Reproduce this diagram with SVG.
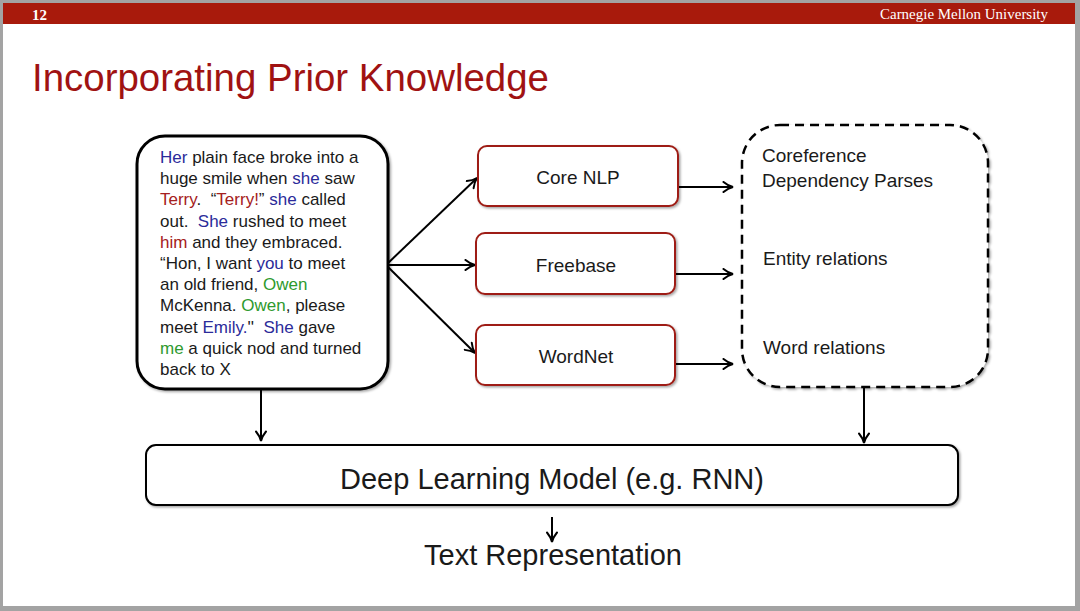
<svg xmlns="http://www.w3.org/2000/svg" width="1080" height="611" viewBox="0 0 1080 611">
<style>
.sans{font-family:"Liberation Sans",Arial,sans-serif;}
.story{font-family:"Liberation Sans",Arial,sans-serif;font-size:17px;fill:#1a1a1a;}
.b{fill:#2b2b9a;}
.r{fill:#a52020;}
.g{fill:#2e9a2e;}
.lbl{font-family:"Liberation Sans",Arial,sans-serif;font-size:19px;fill:#1a1a1a;}
.tool{fill:#fff;stroke:#9e1f14;stroke-width:2;}
.conn{stroke:#000;stroke-width:2;fill:none;marker-end:url(#arr);}
</style>
<defs>
<marker id="arr" viewBox="0 0 12 12" refX="11" refY="6" markerWidth="12" markerHeight="12" markerUnits="userSpaceOnUse" orient="auto">
<path d="M1.5,1 Q6,4.8 11,6 Q6,7.2 1.5,11" fill="none" stroke="#000" stroke-width="2" stroke-linecap="round"/>
</marker>
<filter id="sh" x="-5%" y="-5%" width="115%" height="125%">
<feDropShadow dx="1.5" dy="1.5" stdDeviation="1" flood-color="#000" flood-opacity="0.35"/>
</filter>
</defs>

<!-- slide frame -->
<rect x="0" y="0" width="1080" height="611" fill="#a3a3a3"/>
<rect x="3" y="3" width="1072" height="603" fill="#ffffff"/>
<rect x="3" y="3" width="1072" height="21" fill="#a81a0c"/>
<text x="32" y="20" font-family="'Liberation Serif',serif" font-weight="bold" font-size="15" fill="#fff">12</text>
<text x="880" y="19" font-family="'Liberation Serif',serif" font-size="15" fill="#fff" textLength="168" lengthAdjust="spacingAndGlyphs">Carnegie Mellon University</text>
<text x="32" y="91" class="sans" font-size="38.5" fill="#a01212" textLength="517" lengthAdjust="spacingAndGlyphs">Incorporating Prior Knowledge</text>

<g id="connectors">
<path class="conn" d="M386,265 L477,178"/>
<path class="conn" d="M386,265 L475,265"/>
<path class="conn" d="M386,265 L475,353"/>
<path class="conn" d="M678,187 L733,187"/>
<path class="conn" d="M675,274 L733,274"/>
<path class="conn" d="M675,364 L733,364"/>
<path class="conn" d="M261,389 L261,441"/>
<path class="conn" d="M864,388 L864,443"/>
<path class="conn" d="M552,517 L552,542"/>
</g>

<g id="story">
<rect x="137" y="136" width="251" height="253" rx="28" fill="#fff" stroke="#000" stroke-width="3" filter="url(#sh)"/>
<text class="story">
<tspan x="160" y="163"><tspan class="b">Her</tspan> plain face broke into a</tspan>
<tspan x="160" y="184.2">huge smile when <tspan class="b">she</tspan> saw</tspan>
<tspan x="160" y="205.4"><tspan class="r">Terry</tspan>.&#160; “<tspan class="r">Terry!</tspan>” <tspan class="b">she</tspan> called</tspan>
<tspan x="160" y="226.6">out.&#160; <tspan class="b">She</tspan> rushed to meet</tspan>
<tspan x="160" y="247.8"><tspan class="r">him</tspan> and they embraced.</tspan>
<tspan x="160" y="269">“Hon, I want <tspan class="b">you</tspan> to meet</tspan>
<tspan x="160" y="290.2">an old friend, <tspan class="g">Owen</tspan></tspan>
<tspan x="160" y="311.4">McKenna. <tspan class="g">Owen</tspan>, please</tspan>
<tspan x="160" y="332.6">meet <tspan class="b">Emily.</tspan>''&#160; <tspan class="b">She</tspan> gave</tspan>
<tspan x="160" y="353.8"><tspan class="g">me</tspan> a quick nod and turned</tspan>
<tspan x="160" y="375">back to X</tspan>
</text>
</g>

<g id="corenlp">
<rect class="tool" x="478" y="146" width="200" height="60" rx="9" filter="url(#sh)"/>
<text class="lbl" x="578" y="184" text-anchor="middle">Core NLP</text>
</g>
<g id="freebase">
<rect class="tool" x="476" y="233" width="199" height="61" rx="9" filter="url(#sh)"/>
<text class="lbl" x="576" y="272" text-anchor="middle">Freebase</text>
</g>
<g id="wordnet">
<rect class="tool" x="476" y="325" width="199" height="60" rx="9" filter="url(#sh)"/>
<text class="lbl" x="576" y="363" text-anchor="middle">WordNet</text>
</g>

<g id="knowledge">
<rect x="742" y="125" width="246" height="262" rx="38" fill="#fff" stroke="#000" stroke-width="2.5" stroke-dasharray="9,6" filter="url(#sh)"/>
<text class="lbl" x="762" y="162">Coreference</text>
<text class="lbl" x="762" y="187">Dependency Parses</text>
<text class="lbl" x="763" y="265">Entity relations</text>
<text class="lbl" x="763" y="354">Word relations</text>
</g>

<g id="model">
<rect x="146" y="445" width="812" height="60" rx="10" fill="#fff" stroke="#000" stroke-width="2" filter="url(#sh)"/>
<text class="sans" x="552" y="489" font-size="29" fill="#1a1a1a" text-anchor="middle">Deep Learning Model (e.g. RNN)</text>
</g>

<g id="output">
<text class="sans" x="553" y="565" font-size="29" fill="#1a1a1a" text-anchor="middle">Text Representation</text>
</g>
</svg>
